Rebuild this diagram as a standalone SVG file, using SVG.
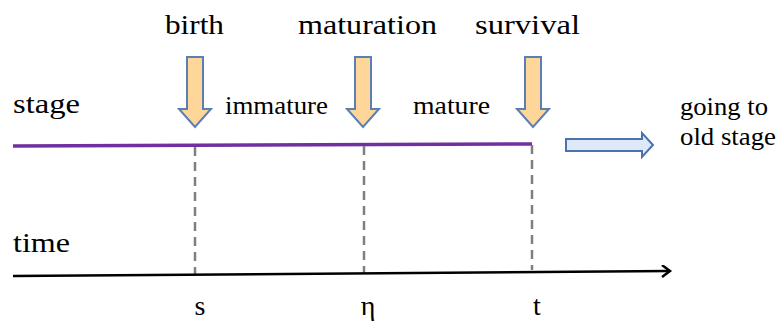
<svg xmlns="http://www.w3.org/2000/svg" width="777" height="325" viewBox="0 0 777 325">
  <style>
    text { font-family: 'Liberation Serif', serif; fill: #000; }
    .big { font-size: 28px; }
    .mid { font-size: 25px; }
    .axis { font-size: 28px; text-anchor: middle; }
    .down { fill: #ffd699; stroke: #5a7fb5; stroke-width: 2; stroke-linejoin: miter; }
    .right { fill: #dde8f8; stroke: #4a72b0; stroke-width: 2; }
    .dash { stroke: #7f7f7f; stroke-width: 2.5; stroke-dasharray: 9 6; fill: none; }
  </style>
  <defs>
    <marker id="open" markerWidth="14" markerHeight="14" refX="10" refY="6" orient="auto" markerUnits="userSpaceOnUse">
      <path d="M2,0 L10,6 L2,12" fill="none" stroke="#000" stroke-width="2.5"/>
    </marker>
    <path id="downArrow" d="M-8,0 H8 V52 H16 L0,70 L-16,52 H-8 Z"/>
  </defs>

  <!-- stage line, time axis and dashed event guides -->
  <g id="connectors">
    <line x1="13" y1="146" x2="532" y2="144" stroke="#7030a0" stroke-width="3.5"/>
    <line class="dash" x1="195" y1="147" x2="195" y2="274"/>
    <line class="dash" x1="364" y1="146" x2="364" y2="273"/>
    <line class="dash" x1="532" y1="145" x2="532" y2="270"/>
    <line x1="13" y1="276" x2="670" y2="271" stroke="#000" stroke-width="2.5" marker-end="url(#open)"/>
  </g>

  <g id="stage-label"><text class="big" x="13" y="113" textLength="67" lengthAdjust="spacingAndGlyphs">stage</text></g>
  <g id="time-label"><text class="big" x="13" y="252" textLength="57" lengthAdjust="spacingAndGlyphs">time</text></g>

  <g id="birth">
    <text class="big" x="165" y="34" textLength="59" lengthAdjust="spacingAndGlyphs">birth</text>
    <use href="#downArrow" class="down" transform="translate(195,57)"/>
  </g>
  <g id="maturation">
    <text class="big" x="298" y="34" textLength="139" lengthAdjust="spacingAndGlyphs">maturation</text>
    <use href="#downArrow" class="down" transform="translate(363,57)"/>
  </g>
  <g id="survival">
    <text class="big" x="475" y="34" textLength="105" lengthAdjust="spacingAndGlyphs">survival</text>
    <use href="#downArrow" class="down" transform="translate(533,57)"/>
  </g>

  <g id="immature"><text class="mid" x="225" y="114" textLength="103" lengthAdjust="spacingAndGlyphs">immature</text></g>
  <g id="mature"><text class="mid" x="413" y="114" textLength="77" lengthAdjust="spacingAndGlyphs">mature</text></g>

  <g id="old-stage">
    <path class="right" d="M566,139 H642 V133 L653,145 L642,157 V151 H566 Z"/>
    <text class="mid" x="680" y="115" textLength="88" lengthAdjust="spacingAndGlyphs">going to</text>
    <text class="mid" x="680" y="145" textLength="96" lengthAdjust="spacingAndGlyphs">old stage</text>
  </g>

  <g id="tick-s"><text class="axis" x="200" y="315">s</text></g>
  <g id="tick-eta"><text class="axis" x="368" y="315">η</text></g>
  <g id="tick-t"><text class="axis" x="537" y="315">t</text></g>
</svg>
